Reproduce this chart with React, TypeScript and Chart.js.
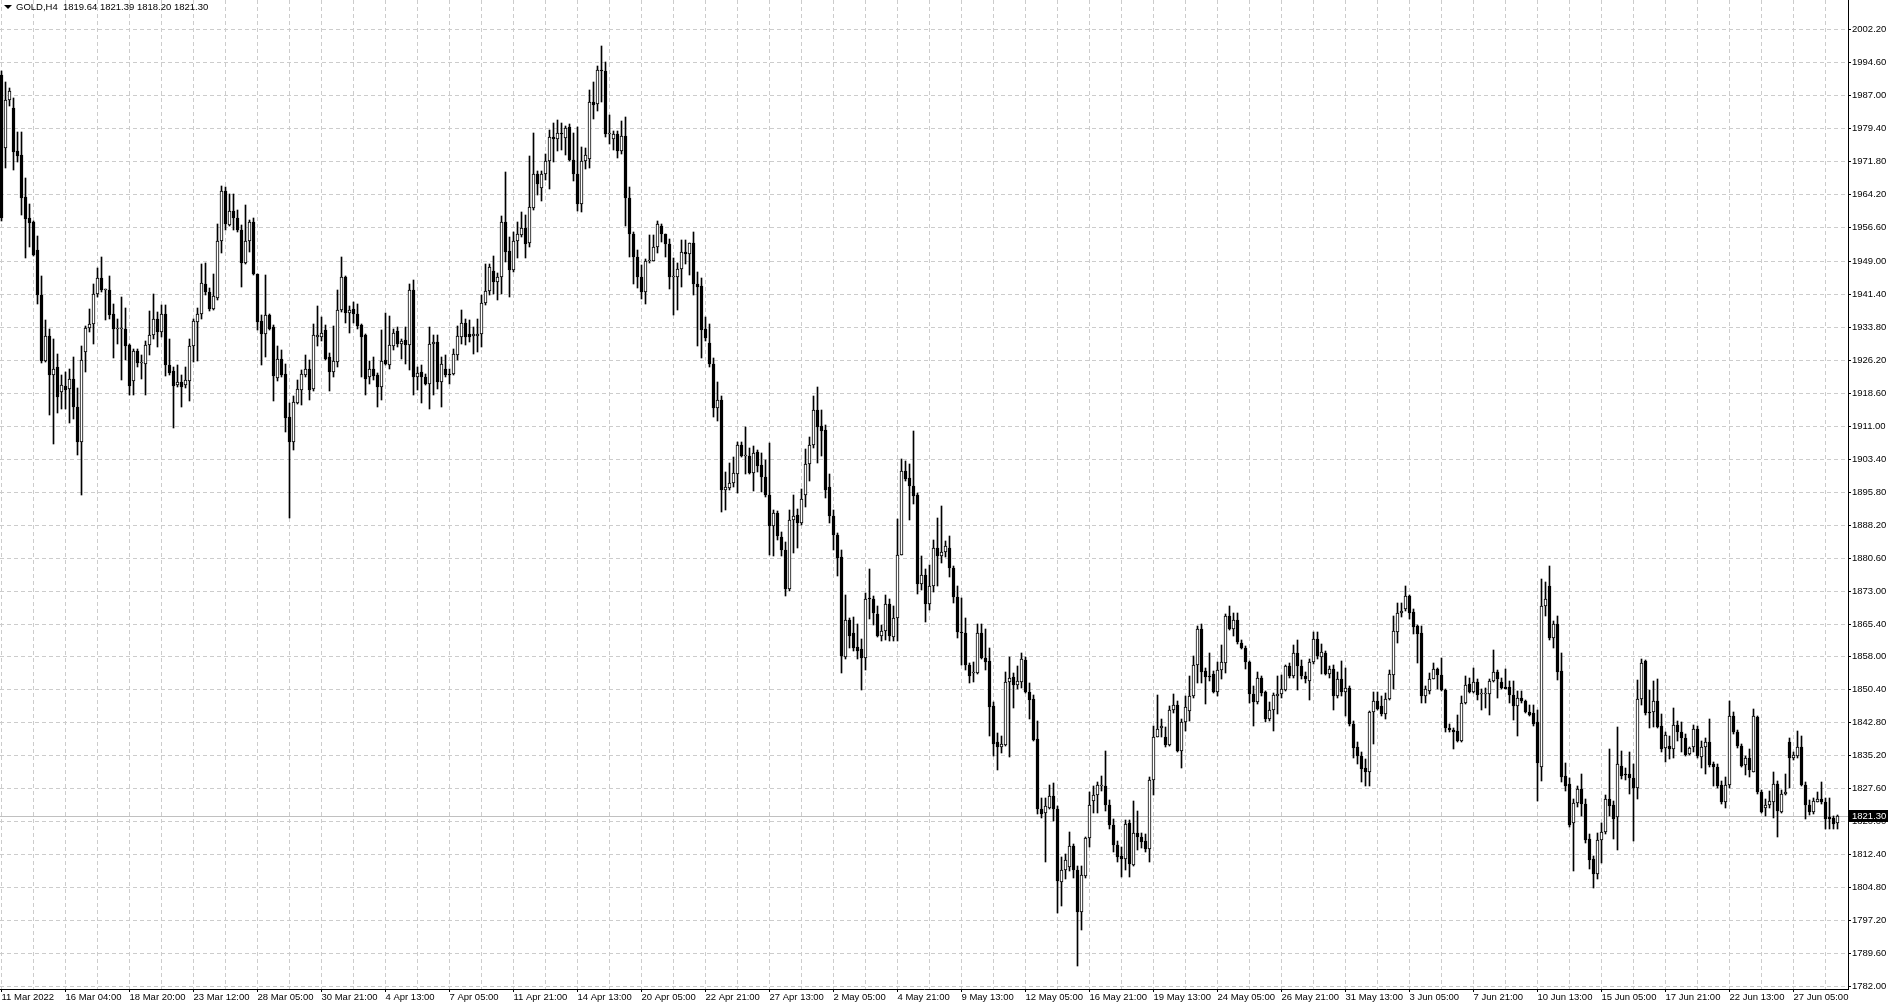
import React, { useEffect, useRef } from 'react';
import { Chart, registerables } from 'chart.js';

Chart.register(...registerables);

const symbol = 'GOLD';
const timeframe = 'H4';

const opens = [
  1991.7, 1975.0, 1985.9, 1984.0, 1974.2, 1973.3, 1963.5, 1958.7, 1957.9, 1951.5,
  1941.0, 1925.9, 1931.6, 1922.7, 1924.4, 1918.8, 1920.1, 1919.5, 1921.7, 1915.4,
  1907.2, 1928.0, 1933.5, 1934.3, 1941.4, 1944.9, 1942.3, 1942.3, 1936.8, 1933.3,
  1933.3, 1933.3, 1929.5, 1921.3, 1928.1, 1925.5, 1925.3, 1929.6, 1931.9, 1935.6,
  1932.6, 1936.6, 1924.9, 1923.5, 1920.3, 1921.1, 1920.4, 1921.3, 1929.3, 1934.9,
  1936.6, 1943.5, 1941.8, 1937.8, 1940.4, 1953.5, 1964.9, 1957.1, 1960.4, 1958.7,
  1956.0, 1948.5, 1953.5, 1957.9, 1945.8, 1935.0, 1932.2, 1936.4, 1933.7, 1922.0,
  1926.4, 1922.8, 1913.0, 1907.2, 1916.2, 1919.1, 1922.7, 1924.1, 1919.4, 1931.4,
  1931.4, 1933.1, 1926.7, 1923.4, 1925.7, 1937.6, 1945.3, 1936.9, 1937.9, 1936.8,
  1934.1, 1931.8, 1922.1, 1924.1, 1922.6, 1919.9, 1926.0, 1924.9, 1929.3, 1932.8,
  1929.9, 1930.6, 1929.5, 1942.2, 1922.1, 1923.4, 1922.1, 1920.7, 1929.7, 1930.3,
  1921.1, 1924.1, 1922.8, 1922.8, 1927.2, 1931.4, 1934.6, 1932.2, 1931.6, 1931.6,
  1932.0, 1939.2, 1942.0, 1946.5, 1944.1, 1945.1, 1957.9, 1951.2, 1946.8, 1953.5,
  1954.8, 1956.4, 1953.1, 1961.1, 1969.0, 1965.7, 1969.0, 1972.0, 1977.4, 1977.0,
  1978.4, 1977.3, 1979.8, 1972.2, 1969.0, 1961.9, 1972.0, 1972.4, 1985.4, 1985.0,
  1992.8, 1992.7, 1978.0, 1977.0, 1978.1, 1974.1, 1977.6, 1963.3, 1955.0, 1949.8,
  1945.2, 1941.8, 1948.8, 1948.9, 1952.0, 1956.9, 1955.0, 1952.9, 1945.2, 1945.2,
  1947.1, 1951.0, 1950.4, 1953.0, 1943.7, 1943.1, 1933.2, 1930.1, 1925.1, 1915.0,
  1916.9, 1896.3, 1896.7, 1897.7, 1899.9, 1906.6, 1904.1, 1904.1, 1900.2, 1905.0,
  1902.0, 1899.1, 1895.1, 1887.8, 1890.9, 1885.4, 1882.3, 1873.4, 1889.3, 1890.4,
  1888.5, 1895.0, 1902.2, 1906.5, 1914.5, 1910.9, 1910.0, 1896.8, 1890.1, 1885.8,
  1880.7, 1857.8, 1866.2, 1863.2, 1860.0, 1859.5, 1857.5, 1871.2, 1871.2, 1867.6,
  1862.7, 1863.8, 1869.9, 1862.4, 1866.7, 1881.2, 1900.5, 1898.9, 1897.2, 1895.0,
  1874.5, 1876.6, 1869.9, 1874.0, 1882.9, 1880.9, 1882.0, 1882.9, 1878.3, 1871.6,
  1863.6, 1863.2, 1856.0, 1854.0, 1854.0, 1863.4, 1857.5, 1856.9, 1846.5, 1838.1,
  1837.0, 1837.6, 1852.1, 1853.2, 1851.4, 1852.0, 1857.0, 1849.7, 1848.0, 1839.0,
  1822.8, 1821.8, 1823.1, 1825.7, 1822.8, 1805.9, 1808.7, 1809.5, 1814.3, 1808.7,
  1799.0, 1807.4, 1816.1, 1824.6, 1826.1, 1828.2, 1828.2, 1823.8, 1819.2, 1814.6,
  1812.0, 1811.3, 1819.5, 1810.0, 1817.2, 1816.3, 1815.5, 1813.6, 1829.5, 1839.4,
  1841.4, 1839.4, 1837.6, 1845.6, 1846.8, 1836.1, 1842.8, 1845.3, 1848.7, 1856.0,
  1864.2, 1854.5, 1853.5, 1853.9, 1849.7, 1854.8, 1856.3, 1867.3, 1864.2, 1866.3,
  1860.9, 1859.9, 1856.6, 1849.3, 1847.4, 1853.0, 1849.7, 1843.5, 1845.6, 1848.9,
  1849.3, 1850.2, 1855.8, 1853.3, 1858.6, 1855.8, 1853.3, 1852.3, 1856.6, 1861.9,
  1857.8, 1858.8, 1853.8, 1855.0, 1848.7, 1852.7, 1849.7, 1850.7, 1842.3, 1837.1,
  1835.0, 1832.2, 1831.2, 1845.1, 1847.7, 1846.5, 1844.6, 1848.1, 1853.6, 1863.6,
  1867.9, 1868.8, 1871.7, 1868.2, 1864.8, 1863.2, 1848.7, 1850.0, 1852.8, 1855.0,
  1853.6, 1850.2, 1841.5, 1841.0, 1840.8, 1838.5, 1847.3, 1851.5, 1849.7, 1852.0,
  1849.2, 1849.2, 1849.2, 1852.3, 1854.3, 1852.0, 1850.9, 1850.9, 1849.0, 1846.4,
  1848.4, 1847.7, 1845.2, 1844.8, 1842.7, 1832.5, 1869.4, 1874.0, 1862.2, 1865.3,
  1854.6, 1830.4, 1828.5, 1819.5, 1824.1, 1827.5, 1823.9, 1815.8, 1811.2, 1807.9,
  1815.6, 1817.6, 1825.0, 1823.7, 1821.0, 1832.7, 1830.9, 1830.9, 1830.0, 1827.7,
  1848.1, 1856.9, 1845.2, 1845.0, 1847.7, 1841.9, 1836.8, 1837.3, 1836.5, 1842.1,
  1840.6, 1839.1, 1835.4, 1837.1, 1841.1, 1834.8, 1837.1, 1838.3, 1833.1, 1832.5,
  1828.3, 1824.5, 1828.3, 1844.2, 1840.4, 1837.3, 1832.9, 1834.5, 1831.4, 1844.0,
  1826.8, 1823.0, 1823.7, 1824.5, 1828.5, 1822.2, 1826.3, 1838.1, 1834.5, 1835.0,
  1837.1, 1828.3, 1823.7, 1822.2, 1824.5, 1825.0, 1824.3, 1820.9, 1820.8, 1819.64,
];

const highs = [
  1992.5, 1990.1, 1988.6, 1986.3, 1978.6, 1978.5, 1967.9, 1962.0, 1958.2, 1954.6,
  1945.4, 1935.3, 1933.3, 1931.0, 1927.6, 1922.6, 1923.4, 1924.1, 1926.8, 1919.7,
  1929.3, 1934.0, 1937.9, 1943.7, 1947.2, 1949.8, 1942.5, 1945.4, 1939.1, 1935.6,
  1940.6, 1938.1, 1929.9, 1928.7, 1928.6, 1927.2, 1930.4, 1937.3, 1941.4, 1937.2,
  1938.7, 1938.7, 1930.9, 1924.5, 1924.9, 1922.6, 1924.5, 1931.0, 1935.6, 1938.0,
  1948.3, 1948.5, 1942.7, 1945.8, 1957.5, 1966.1, 1966.0, 1964.2, 1964.2, 1960.6,
  1957.1, 1961.7, 1958.3, 1958.7, 1945.8, 1936.4, 1945.6, 1936.8, 1934.1, 1929.3,
  1928.3, 1925.1, 1916.2, 1917.8, 1921.6, 1923.7, 1927.2, 1926.0, 1934.5, 1938.5,
  1936.0, 1934.1, 1927.8, 1933.9, 1942.3, 1949.7, 1945.4, 1938.5, 1939.5, 1939.1,
  1934.5, 1932.2, 1925.9, 1926.8, 1923.1, 1932.9, 1936.9, 1936.2, 1933.3, 1933.7,
  1931.0, 1933.6, 1943.5, 1944.5, 1924.5, 1924.9, 1923.0, 1933.6, 1931.8, 1931.8,
  1926.8, 1927.2, 1924.1, 1928.7, 1933.9, 1937.7, 1935.6, 1935.4, 1933.7, 1935.6,
  1941.0, 1948.2, 1948.2, 1950.0, 1946.2, 1959.2, 1969.4, 1954.3, 1955.6, 1957.9,
  1960.2, 1959.4, 1973.0, 1978.4, 1969.5, 1969.5, 1973.4, 1979.1, 1980.6, 1981.4,
  1980.6, 1979.9, 1980.4, 1978.3, 1979.8, 1975.1, 1974.9, 1988.3, 1990.0, 1993.8,
  1998.4, 1994.6, 1982.5, 1978.7, 1978.7, 1981.0, 1982.0, 1965.9, 1955.6, 1951.4,
  1947.9, 1949.4, 1954.9, 1954.9, 1958.2, 1957.3, 1955.2, 1953.9, 1949.6, 1948.5,
  1953.8, 1953.8, 1953.1, 1955.5, 1946.3, 1944.9, 1936.0, 1934.3, 1926.5, 1921.1,
  1917.9, 1900.3, 1902.5, 1903.7, 1907.2, 1907.2, 1910.8, 1905.8, 1906.4, 1905.4,
  1904.7, 1903.2, 1906.9, 1891.5, 1891.3, 1886.5, 1884.2, 1891.5, 1895.1, 1891.8,
  1896.5, 1905.7, 1908.3, 1917.8, 1919.9, 1914.5, 1911.2, 1899.8, 1891.6, 1886.4,
  1882.3, 1872.1, 1866.7, 1867.0, 1865.3, 1861.8, 1872.5, 1878.1, 1871.9, 1869.5,
  1865.1, 1872.1, 1871.2, 1869.6, 1889.6, 1903.3, 1902.8, 1902.2, 1909.8, 1895.5,
  1880.9, 1878.1, 1879.0, 1884.6, 1889.8, 1892.4, 1884.4, 1885.5, 1878.8, 1874.0,
  1871.4, 1866.7, 1856.5, 1856.6, 1865.3, 1865.3, 1864.3, 1859.8, 1847.4, 1840.2,
  1839.6, 1854.3, 1857.8, 1854.0, 1855.6, 1858.6, 1857.8, 1851.7, 1849.1, 1843.0,
  1825.4, 1825.4, 1828.3, 1828.7, 1823.5, 1811.7, 1812.4, 1817.6, 1814.7, 1809.7,
  1809.7, 1816.4, 1826.6, 1828.2, 1828.9, 1830.5, 1836.1, 1824.9, 1820.5, 1815.5,
  1814.0, 1820.3, 1820.3, 1824.7, 1822.4, 1817.2, 1817.0, 1830.2, 1842.0, 1849.1,
  1843.5, 1841.6, 1846.6, 1849.3, 1847.7, 1843.5, 1848.7, 1853.5, 1858.1, 1865.0,
  1865.4, 1855.3, 1858.6, 1854.5, 1856.6, 1860.6, 1867.7, 1869.6, 1867.9, 1867.9,
  1861.7, 1860.2, 1856.8, 1851.2, 1854.3, 1853.5, 1850.0, 1847.4, 1849.4, 1853.3,
  1853.7, 1856.0, 1856.3, 1860.6, 1861.7, 1857.1, 1854.3, 1857.3, 1863.5, 1863.5,
  1860.8, 1859.2, 1855.7, 1855.9, 1854.3, 1856.9, 1855.3, 1851.1, 1843.1, 1838.2,
  1835.9, 1834.2, 1845.4, 1849.7, 1849.7, 1848.7, 1849.6, 1854.8, 1867.1, 1870.3,
  1870.3, 1874.0, 1872.0, 1868.9, 1865.1, 1864.9, 1851.0, 1854.0, 1856.3, 1855.3,
  1857.6, 1850.4, 1842.3, 1841.5, 1844.4, 1848.8, 1853.4, 1853.0, 1855.3, 1852.7,
  1850.5, 1850.7, 1852.8, 1859.4, 1854.8, 1853.0, 1855.1, 1852.3, 1852.3, 1850.0,
  1850.0, 1847.9, 1846.7, 1846.7, 1845.6, 1875.8, 1875.1, 1878.6, 1866.1, 1867.1,
  1858.8, 1833.3, 1830.0, 1825.0, 1828.1, 1830.8, 1825.0, 1817.0, 1812.0, 1817.3,
  1819.6, 1826.0, 1836.5, 1824.6, 1841.7, 1836.2, 1832.3, 1835.8, 1833.2, 1852.4,
  1857.3, 1857.0, 1850.1, 1852.3, 1852.7, 1844.6, 1840.6, 1839.6, 1846.1, 1843.1,
  1842.9, 1840.1, 1837.1, 1842.1, 1841.9, 1838.5, 1839.2, 1843.4, 1833.7, 1833.2,
  1829.2, 1830.2, 1847.7, 1845.2, 1840.9, 1837.7, 1835.0, 1836.5, 1845.7, 1844.2,
  1827.1, 1825.0, 1826.9, 1831.4, 1829.2, 1827.1, 1830.8, 1839.1, 1835.8, 1840.8,
  1839.6, 1828.9, 1824.8, 1825.4, 1826.6, 1829.1, 1825.4, 1825.4, 1821.2, 1821.39,
];

const lows = [
  1958.0, 1970.2, 1984.5, 1969.8, 1971.7, 1959.4, 1949.5, 1952.1, 1950.0, 1939.1,
  1925.5, 1925.7, 1913.4, 1906.8, 1913.8, 1914.9, 1914.9, 1911.5, 1912.6, 1904.2,
  1895.0, 1923.4, 1932.6, 1929.9, 1940.6, 1941.8, 1935.3, 1935.6, 1926.6, 1929.9,
  1921.4, 1926.0, 1918.0, 1918.0, 1924.5, 1921.8, 1918.0, 1927.2, 1931.0, 1929.1,
  1931.4, 1922.4, 1922.6, 1910.5, 1919.9, 1915.3, 1919.7, 1916.6, 1925.6, 1925.8,
  1935.6, 1941.1, 1937.3, 1937.6, 1939.9, 1950.8, 1956.0, 1957.0, 1956.0, 1955.6,
  1942.9, 1948.1, 1951.0, 1945.6, 1933.0, 1925.0, 1926.8, 1932.9, 1916.7, 1921.3,
  1922.2, 1909.5, 1889.8, 1905.5, 1915.9, 1915.7, 1922.1, 1917.0, 1919.0, 1929.3,
  1930.5, 1926.2, 1919.0, 1922.2, 1924.4, 1937.2, 1934.6, 1932.3, 1934.6, 1933.3,
  1922.2, 1918.0, 1920.7, 1921.4, 1915.3, 1916.8, 1924.9, 1924.1, 1928.5, 1929.1,
  1926.4, 1925.3, 1923.7, 1918.0, 1919.1, 1916.2, 1920.3, 1914.9, 1918.0, 1919.5,
  1915.3, 1922.1, 1920.5, 1922.6, 1926.0, 1929.9, 1929.5, 1930.3, 1927.6, 1928.0,
  1929.0, 1938.7, 1941.0, 1941.4, 1939.9, 1941.2, 1948.7, 1940.6, 1946.4, 1949.5,
  1954.4, 1949.5, 1952.1, 1960.7, 1964.0, 1962.8, 1967.5, 1965.5, 1971.6, 1974.2,
  1974.5, 1973.2, 1972.0, 1967.4, 1960.4, 1960.2, 1970.0, 1970.3, 1981.6, 1983.5,
  1985.4, 1977.4, 1975.9, 1974.5, 1972.6, 1973.4, 1956.9, 1949.9, 1943.5, 1942.7,
  1940.1, 1939.0, 1948.5, 1948.8, 1950.8, 1953.3, 1949.8, 1942.4, 1936.5, 1937.6,
  1942.9, 1948.1, 1945.6, 1941.0, 1929.3, 1926.5, 1930.5, 1924.6, 1912.9, 1912.1,
  1891.1, 1891.5, 1896.1, 1897.0, 1895.5, 1903.7, 1899.9, 1899.9, 1896.0, 1900.3,
  1895.7, 1894.6, 1881.2, 1880.9, 1884.8, 1881.1, 1871.9, 1872.9, 1881.6, 1882.9,
  1888.1, 1892.2, 1898.2, 1905.9, 1902.4, 1904.1, 1894.4, 1888.7, 1882.3, 1876.4,
  1854.0, 1857.3, 1859.8, 1859.1, 1857.3, 1850.2, 1854.7, 1866.4, 1865.1, 1862.4,
  1861.5, 1861.7, 1861.5, 1861.5, 1861.5, 1881.2, 1898.2, 1889.2, 1892.9, 1872.2,
  1873.1, 1865.8, 1868.6, 1872.8, 1874.2, 1879.4, 1880.7, 1876.2, 1870.3, 1862.1,
  1856.0, 1854.7, 1851.7, 1852.1, 1853.9, 1857.2, 1854.7, 1839.6, 1835.0, 1831.8,
  1835.7, 1837.2, 1834.8, 1846.1, 1850.4, 1850.6, 1849.4, 1843.6, 1838.4, 1821.6,
  1820.8, 1810.5, 1822.7, 1820.1, 1798.8, 1800.5, 1806.7, 1808.6, 1807.0, 1786.7,
  1795.0, 1807.0, 1814.1, 1821.8, 1821.8, 1827.0, 1822.3, 1818.2, 1813.0, 1810.7,
  1807.2, 1808.7, 1807.2, 1809.7, 1813.3, 1813.8, 1812.8, 1810.7, 1826.1, 1839.3,
  1839.4, 1837.1, 1837.4, 1844.8, 1835.8, 1832.2, 1840.8, 1843.1, 1848.4, 1851.7,
  1851.7, 1847.0, 1852.3, 1849.4, 1848.9, 1852.7, 1854.0, 1863.9, 1862.5, 1860.8,
  1859.6, 1855.0, 1847.1, 1841.8, 1847.0, 1848.9, 1842.8, 1843.0, 1840.7, 1844.7,
  1848.4, 1850.0, 1853.0, 1853.0, 1850.2, 1852.7, 1851.7, 1847.9, 1856.2, 1857.3,
  1853.9, 1853.6, 1853.0, 1845.6, 1848.4, 1848.8, 1844.2, 1841.9, 1834.6, 1833.1,
  1829.0, 1828.2, 1828.2, 1837.7, 1845.6, 1844.2, 1843.6, 1847.9, 1850.5, 1860.9,
  1866.9, 1868.4, 1866.5, 1863.0, 1856.3, 1847.1, 1847.3, 1849.2, 1852.7, 1850.5,
  1850.0, 1840.5, 1840.4, 1836.5, 1838.2, 1838.1, 1846.9, 1849.4, 1849.4, 1847.9,
  1845.6, 1846.1, 1844.4, 1852.0, 1848.4, 1850.5, 1850.4, 1847.3, 1843.3, 1839.6,
  1847.3, 1844.8, 1844.2, 1841.9, 1824.6, 1829.2, 1867.1, 1861.7, 1859.9, 1852.5,
  1829.0, 1826.9, 1818.7, 1808.5, 1823.3, 1821.3, 1815.0, 1808.9, 1804.7, 1806.8,
  1810.4, 1817.1, 1821.2, 1816.0, 1813.3, 1829.6, 1829.4, 1826.2, 1815.4, 1825.0,
  1846.7, 1844.4, 1841.4, 1841.7, 1841.4, 1835.8, 1833.5, 1834.2, 1834.6, 1838.5,
  1836.0, 1835.0, 1835.2, 1835.8, 1834.6, 1832.2, 1830.8, 1832.5, 1828.1, 1827.7,
  1823.9, 1823.1, 1827.7, 1840.0, 1836.8, 1832.5, 1830.6, 1830.2, 1831.2, 1826.2,
  1821.9, 1821.2, 1823.1, 1820.8, 1816.3, 1821.9, 1826.0, 1827.7, 1834.0, 1834.6,
  1828.1, 1820.4, 1821.4, 1821.6, 1824.3, 1824.0, 1818.3, 1818.1, 1818.1, 1818.20,
];

const closes = [
  1958.7, 1985.9, 1988.0, 1974.0, 1973.1, 1963.4, 1958.5, 1957.7, 1950.2, 1941.0,
  1925.9, 1931.6, 1922.7, 1924.1, 1917.6, 1920.3, 1919.3, 1921.7, 1915.3, 1907.2,
  1926.0, 1933.5, 1934.3, 1941.4, 1944.9, 1942.3, 1942.3, 1936.4, 1933.3, 1933.3,
  1933.3, 1929.3, 1920.1, 1928.1, 1925.5, 1925.5, 1929.6, 1931.9, 1935.6, 1932.6,
  1936.6, 1925.0, 1923.2, 1920.1, 1921.1, 1919.9, 1921.4, 1929.3, 1935.0, 1936.6,
  1943.9, 1941.8, 1937.8, 1940.9, 1953.5, 1964.9, 1957.5, 1960.4, 1958.7, 1956.0,
  1948.5, 1953.5, 1957.9, 1945.9, 1934.9, 1932.2, 1936.4, 1933.3, 1922.4, 1926.4,
  1922.6, 1912.8, 1907.2, 1916.4, 1919.4, 1923.0, 1924.1, 1919.1, 1931.8, 1931.8,
  1932.4, 1926.4, 1923.4, 1925.9, 1937.6, 1945.1, 1936.9, 1937.7, 1936.6, 1933.9,
  1931.3, 1921.8, 1924.1, 1922.4, 1919.9, 1925.9, 1925.3, 1929.5, 1932.4, 1929.9,
  1930.4, 1929.5, 1942.2, 1922.1, 1923.2, 1922.1, 1920.7, 1929.7, 1930.3, 1921.1,
  1925.1, 1922.6, 1922.7, 1927.4, 1931.6, 1934.6, 1931.4, 1931.4, 1932.2, 1932.2,
  1939.2, 1942.0, 1947.5, 1944.1, 1945.1, 1957.9, 1951.0, 1946.8, 1953.5, 1955.0,
  1956.4, 1952.9, 1961.2, 1969.0, 1966.5, 1969.0, 1972.0, 1977.4, 1977.0, 1978.4,
  1978.1, 1979.5, 1972.2, 1969.0, 1961.9, 1972.0, 1973.2, 1985.4, 1984.8, 1992.8,
  1992.6, 1978.1, 1978.4, 1978.1, 1974.2, 1977.6, 1963.3, 1955.2, 1949.8, 1945.2,
  1941.8, 1948.8, 1949.1, 1952.0, 1957.3, 1955.0, 1952.7, 1945.2, 1945.2, 1947.1,
  1951.0, 1950.4, 1953.0, 1943.5, 1942.9, 1933.0, 1931.2, 1925.1, 1915.0, 1916.9,
  1896.3, 1896.8, 1897.7, 1900.2, 1906.6, 1904.1, 1904.2, 1900.2, 1904.7, 1901.8,
  1899.1, 1895.1, 1887.8, 1890.9, 1885.7, 1882.3, 1873.4, 1889.4, 1890.2, 1888.5,
  1894.2, 1902.2, 1906.5, 1914.7, 1910.6, 1909.8, 1896.2, 1890.1, 1885.8, 1880.6,
  1858.0, 1866.2, 1862.7, 1859.8, 1859.2, 1857.5, 1871.2, 1871.1, 1867.9, 1862.7,
  1863.8, 1869.9, 1862.5, 1866.7, 1881.2, 1900.5, 1898.8, 1897.2, 1894.8, 1874.5,
  1876.6, 1869.9, 1874.0, 1882.9, 1880.9, 1882.0, 1883.2, 1878.3, 1871.6, 1863.6,
  1863.2, 1856.0, 1853.4, 1854.0, 1863.4, 1857.5, 1856.6, 1846.2, 1837.8, 1837.0,
  1837.8, 1852.1, 1853.0, 1851.4, 1852.3, 1857.2, 1849.7, 1847.8, 1838.7, 1822.8,
  1821.6, 1823.4, 1825.7, 1822.8, 1806.2, 1808.7, 1811.0, 1814.3, 1808.7, 1799.0,
  1807.7, 1816.1, 1823.8, 1826.1, 1828.4, 1828.2, 1823.8, 1819.2, 1814.6, 1811.8,
  1811.3, 1819.3, 1810.1, 1817.2, 1816.3, 1815.3, 1813.6, 1829.5, 1839.4, 1841.2,
  1842.0, 1837.6, 1845.6, 1846.8, 1836.1, 1842.8, 1846.2, 1848.9, 1856.0, 1864.2,
  1854.3, 1853.1, 1853.1, 1849.7, 1854.8, 1856.6, 1867.3, 1864.2, 1866.3, 1861.2,
  1859.9, 1856.6, 1849.3, 1847.4, 1853.0, 1849.4, 1843.5, 1845.6, 1849.1, 1849.3,
  1850.4, 1855.8, 1853.3, 1858.6, 1855.8, 1853.3, 1852.7, 1856.6, 1861.9, 1857.9,
  1858.9, 1853.8, 1855.0, 1848.7, 1852.7, 1849.7, 1850.7, 1842.3, 1836.9, 1834.9,
  1832.1, 1831.2, 1845.1, 1847.7, 1845.9, 1844.6, 1848.1, 1853.8, 1863.8, 1867.9,
  1868.4, 1871.7, 1868.0, 1864.6, 1863.0, 1848.7, 1850.5, 1852.8, 1855.0, 1853.6,
  1850.2, 1841.5, 1841.0, 1840.5, 1838.5, 1847.3, 1851.3, 1849.7, 1852.0, 1849.0,
  1849.2, 1849.3, 1852.3, 1854.3, 1852.8, 1850.7, 1850.5, 1849.0, 1846.4, 1848.4,
  1847.7, 1845.0, 1844.4, 1842.3, 1833.3, 1869.5, 1871.2, 1862.2, 1865.3, 1854.3,
  1830.2, 1828.2, 1819.0, 1824.1, 1827.5, 1823.9, 1815.7, 1811.0, 1807.9, 1815.6,
  1817.6, 1825.0, 1823.5, 1820.6, 1833.2, 1830.4, 1830.6, 1829.9, 1827.7, 1848.1,
  1856.5, 1844.8, 1844.8, 1847.7, 1841.7, 1836.5, 1839.8, 1836.5, 1842.1, 1840.4,
  1839.1, 1835.2, 1836.8, 1841.1, 1835.0, 1837.1, 1838.3, 1832.9, 1832.5, 1828.1,
  1824.5, 1828.3, 1844.2, 1840.4, 1837.3, 1832.7, 1834.6, 1831.7, 1844.2, 1826.6,
  1822.2, 1823.7, 1824.6, 1828.5, 1822.3, 1826.3, 1826.6, 1834.5, 1835.2, 1837.1,
  1828.3, 1823.7, 1822.2, 1824.6, 1825.0, 1824.3, 1820.6, 1820.6, 1819.4, 1821.30,
];

// x-axis labels, one every 16 bars (bar index = 16 * i)
const xTickLabels = [
  '11 Mar 2022', '16 Mar 04:00', '18 Mar 20:00', '23 Mar 12:00', '28 Mar 05:00',
  '30 Mar 21:00', '4 Apr 13:00', '7 Apr 05:00', '11 Apr 21:00', '14 Apr 13:00',
  '20 Apr 05:00', '22 Apr 21:00', '27 Apr 13:00', '2 May 05:00', '4 May 21:00',
  '9 May 13:00', '12 May 05:00', '16 May 21:00', '19 May 13:00', '24 May 05:00',
  '26 May 21:00', '31 May 13:00', '3 Jun 05:00', '7 Jun 21:00', '10 Jun 13:00',
  '15 Jun 05:00', '17 Jun 21:00', '22 Jun 13:00', '27 Jun 05:00',
];

// price axis tick labels
const priceTicks = [
  1782.0, 1789.6, 1797.2, 1804.8, 1812.4, 1820.0, 1827.6, 1835.2, 1842.8, 1850.4,
  1858.0, 1865.4, 1873.0, 1880.6, 1888.2, 1895.8, 1903.4, 1911.0, 1918.6, 1926.2,
  1933.8, 1941.4, 1949.0, 1956.6, 1964.2, 1971.8, 1979.4, 1987.0, 1994.6, 2002.2,
];

const FONT = '"Liberation Sans", Arial, sans-serif';
const W = 1892;
const H = 1007;
const AXIS_W = 44;
const XAXIS_H = 18;
const BAR_STEP = 4;
const GRID_EVERY = 8;
const LABEL_EVERY = 16;

export default function App() {
  const ref = useRef<HTMLCanvasElement | null>(null);
  const n = closes.length;
  const last = n - 1;
  const title = `${symbol},${timeframe}  ${opens[last].toFixed(2)} ${highs[last].toFixed(2)} ${lows[last].toFixed(2)} ${closes[last].toFixed(2)}`;

  useEffect(() => {
    if (!ref.current) return;
    const plotW = W - AXIS_W;
    const barsInView = plotW / BAR_STEP;
    const xMin = -0.375;
    const xMax = xMin + barsInView;
    const pxPerDollar = 957 / 220.2;
    const yMax = 2002.2 + 29.3 / pxPerDollar;
    const yMin = yMax - (H - XAXIS_H) / pxPerDollar;

    const idx = closes.map((_, i) => i);
    const bodies = idx.map((i) => ({ x: i, y: [opens[i], closes[i]] }));
    const wicks = idx.map((i) => ({
      x: i,
      y: [Math.min(lows[i], opens[i], closes[i]), Math.max(highs[i], opens[i], closes[i])],
    }));
    const bodyFill = idx.map((i) => (closes[i] >= opens[i] ? '#ffffff' : '#000000'));
    const lastPrice = closes[last];
    const gridTicks: number[] = [];
    for (let v = 0; v < n; v += GRID_EVERY) gridTicks.push(v);

    const pricePlugin = {
      id: 'priceLine',
      beforeDatasetsDraw(chart: any) {
        const { ctx, chartArea, scales } = chart;
        const y = Math.round(scales.y.getPixelForValue(lastPrice)) + 0.5;
        ctx.save();
        ctx.strokeStyle = '#c0c0c0';
        ctx.lineWidth = 1;
        ctx.beginPath();
        ctx.moveTo(chartArea.left, y);
        ctx.lineTo(chartArea.right, y);
        ctx.stroke();
        ctx.restore();
      },
      afterDraw(chart: any) {
        const { ctx, chartArea, scales } = chart;
        const y = Math.round(scales.y.getPixelForValue(lastPrice));
        ctx.save();
        ctx.fillStyle = '#000000';
        ctx.fillRect(chartArea.right + 1, y - 6, 39, 12);
        ctx.fillStyle = '#ffffff';
        ctx.font = `9.5px ${FONT}`;
        ctx.textBaseline = 'middle';
        ctx.textAlign = 'left';
        ctx.fillText(lastPrice.toFixed(2), chartArea.right + 4, y + 0.5);
        ctx.restore();
      },
    };

    const chart = new Chart(ref.current, {
      type: 'bar',
      data: {
        datasets: [
          {
            data: bodies as any,
            backgroundColor: bodyFill,
            borderColor: '#000000',
            borderWidth: 1,
            borderSkipped: false,
            barThickness: 3,
            grouped: false,
            minBarLength: 1,
            order: 0,
          } as any,
          {
            data: wicks as any,
            backgroundColor: '#000000',
            borderWidth: 0,
            barThickness: 1,
            grouped: false,
            order: 1,
          } as any,
        ],
      },
      options: {
        animation: false,
        responsive: false,
        maintainAspectRatio: false,
        layout: { padding: 0 },
        events: [],
        plugins: {
          legend: { display: false },
          tooltip: { enabled: false },
          title: { display: false },
        },
        scales: {
          x: {
            type: 'linear',
            min: xMin,
            max: xMax,
            offset: false,
            border: { display: true, color: '#000000', width: 1, dash: [4, 3] },
            grid: {
              offset: false,
              color: '#cccccc',
              lineWidth: 1,
              drawTicks: true,
              tickLength: 3,
              tickBorderDash: [],
              tickColor: (c: any) =>
                c.tick && c.tick.value % LABEL_EVERY === 0 ? '#000000' : 'rgba(0,0,0,0)',
            },
            ticks: {
              autoSkip: false,
              maxRotation: 0,
              minRotation: 0,
              align: 'start',
              labelOffset: 0,
              padding: 0,
              color: '#000000',
              font: { family: FONT, size: 9.5 },
              callback: (v: any) =>
                Number(v) % LABEL_EVERY === 0 ? xTickLabels[Number(v) / LABEL_EVERY] ?? '' : '',
            },
            afterBuildTicks: (axis: any) => {
              axis.ticks = gridTicks.map((v) => ({ value: v }));
            },
            afterFit: (s: any) => {
              s.height = XAXIS_H;
              s.paddingLeft = 0;
              s.paddingRight = 0;
              s.paddingTop = 0;
              s.paddingBottom = 0;
            },
          } as any,
          y: {
            type: 'linear',
            position: 'right',
            min: yMin,
            max: yMax,
            beginAtZero: false,
            alignToPixels: true,
            border: { display: true, color: '#000000', width: 1, dash: [4, 3] },
            grid: {
              color: '#cccccc',
              lineWidth: 1,
              drawTicks: true,
              tickLength: 3,
              tickBorderDash: [],
              tickColor: '#000000',
            },
            ticks: {
              padding: 1,
              color: '#000000',
              font: { family: FONT, size: 9.5 },
              callback: (v: any) => Number(v).toFixed(2),
            },
            afterBuildTicks: (axis: any) => {
              axis.ticks = priceTicks.map((v) => ({ value: v }));
            },
            afterFit: (s: any) => {
              s.width = AXIS_W;
              s.paddingLeft = 0;
              s.paddingRight = 0;
              s.paddingTop = 0;
              s.paddingBottom = 0;
            },
          } as any,
        },
      },
      plugins: [pricePlugin],
    });
    return () => chart.destroy();
  }, []);

  return (
    <div style={{ position: 'fixed', left: 0, top: 0, width: W, height: H, background: '#ffffff', overflow: 'hidden' }}>
      <canvas ref={ref} width={W} height={H} style={{ display: 'block', width: W, height: H }} />
      <div
        style={{
          position: 'absolute',
          left: 4,
          top: 5,
          width: 0,
          height: 0,
          borderLeft: '4px solid transparent',
          borderRight: '4px solid transparent',
          borderTop: '4px solid #000000',
        }}
      />
      <div
        style={{
          position: 'absolute',
          left: 16,
          top: 1,
          font: `9.5px ${FONT}`,
          lineHeight: '12px',
          whiteSpace: 'pre',
          color: '#000000',
        }}
      >
        {title}
      </div>
    </div>
  );
}
